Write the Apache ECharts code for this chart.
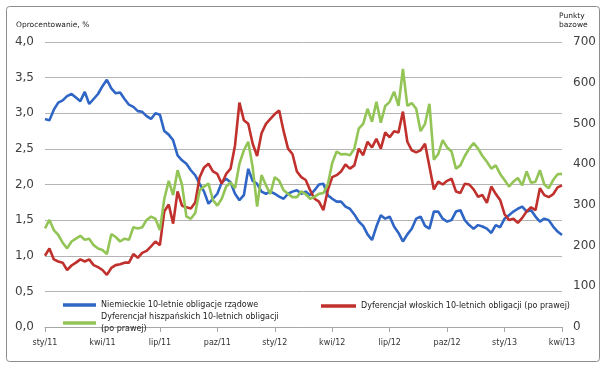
<!DOCTYPE html>
<html>
<head>
<meta charset="utf-8">
<script src="https://cdn.jsdelivr.net/npm/echarts@6/dist/echarts.min.js"></script>
<style>
html,body{margin:0;padding:0;background:#fff;}
#c{width:605px;height:365px;}
</style>
</head>
<body>
<div id="c"></div>
<script>
// Quarter tick labels
const tickLabels = ['sty/11','kwi/11','lip/11','paz/11','sty/12','kwi/12','lip/12','paz/12','sty/13','kwi/13'];

// German 10Y yields, % (left axis), weekly
const blue = [2.92,2.90,3.05,3.15,3.18,3.24,3.27,3.22,3.17,3.30,
3.13,3.20,3.27,3.38,3.47,3.35,3.28,3.29,3.20,3.12,
3.09,3.03,3.02,2.96,2.92,3.00,2.98,2.75,2.70,2.62,
2.41,2.34,2.29,2.20,2.13,2.01,1.90,1.73,1.80,1.87,
2.03,2.08,2.03,1.87,1.78,1.85,2.22,2.05,2.01,1.90,
1.87,1.90,1.87,1.83,1.80,1.87,1.90,1.92,1.87,1.90,
1.85,1.92,2.00,2.01,1.85,1.80,1.76,1.76,1.69,1.66,
1.58,1.48,1.42,1.30,1.22,1.41,1.57,1.52,1.55,1.41,
1.32,1.20,1.30,1.38,1.52,1.55,1.42,1.38,1.62,1.62,
1.52,1.48,1.50,1.62,1.64,1.50,1.43,1.38,1.43,1.41,
1.38,1.32,1.43,1.40,1.52,1.57,1.62,1.66,1.69,1.62,
1.64,1.55,1.48,1.52,1.50,1.41,1.34,1.29];

// Spanish 10Y spread, bp (right axis)
const green = [242,263,238,226,207,193,210,217,224,214,
217,201,193,189,179,228,221,210,217,214,
245,242,245,263,271,266,238,315,359,324,
385,350,271,266,280,336,345,352,312,298,
315,345,355,341,401,434,455,392,296,373,
348,327,368,359,336,327,319,319,333,326,
315,320,327,329,350,403,431,424,425,422,
438,487,499,536,504,553,502,543,553,578,
543,634,543,550,536,481,499,548,411,425,
459,441,431,389,397,420,438,452,438,420,
406,389,397,376,361,345,357,366,348,382,
354,357,385,350,341,361,375,376];

// Italian 10Y spread, bp (right axis)
const red = [175,193,166,161,158,140,151,158,166,161,
166,152,147,140,128,145,152,154,158,158,
179,170,182,187,198,210,201,284,301,254,
333,298,294,291,306,368,392,401,382,376,
352,376,389,446,551,508,499,450,420,476,
499,511,523,532,481,438,425,382,368,361,
336,315,308,287,336,368,373,382,399,389,
397,438,422,455,441,462,438,478,466,481,
478,529,455,434,429,434,450,394,338,357,
350,359,364,333,329,352,350,338,320,324,
305,345,327,312,277,263,266,256,268,284,
294,287,341,324,319,326,343,348];

const nameBlue = 'Niemieckie 10-letnie obligacje rządowe';
const nameRed = 'Dyferencjał włoskich 10-letnich obligacji (po prawej)';
const nameGreen = 'Dyferencjał hiszpańskich 10-letnich obligacji\n(po prawej)';

// weekly category dates
const weeks = [];
for (let i = 0; i < blue.length; i++) {
  const d = new Date(Date.UTC(2011, 0, 3 + 7 * i));
  weeks.push(d.toISOString().slice(0, 10));
}

const FONT = 'DejaVu Sans';
const chart = echarts.init(document.getElementById('c'), null, {renderer: 'canvas'});
const legendText = {fontFamily: FONT, fontSize: 8, color: '#222'};

chart.setOption({
  animation: false,
  backgroundColor: '#fff',
  graphic: [{
    type: 'rect', left: 4, top: 4,
    shape: {width: 593, height: 355, r: 3},
    style: {fill: 'none', stroke: '#8c8c8c', lineWidth: 1}
  }],
  title: [
    {text: 'Oprocentowanie, %', left: 11, top: 16,
     textStyle: {fontFamily: FONT, fontSize: 7.5, fontWeight: 'normal', color: '#222'}},
    {text: 'Punkty\nbazowe', left: 554, top: 6,
     textStyle: {fontFamily: FONT, fontSize: 7.5, fontWeight: 'normal', color: '#222', lineHeight: 9.5}}
  ],
  grid: {left: 45, right: 43, top: 42, bottom: 38},
  legend: [
    {data: [nameBlue], left: 58, top: 296, icon: 'rect', itemWidth: 33, itemHeight: 3.5, textStyle: legendText},
    {data: [nameGreen], left: 58, top: 306, icon: 'rect', itemWidth: 33, itemHeight: 3.5,
     textStyle: Object.assign({lineHeight: 12}, legendText)},
    {data: [nameRed], left: 316, top: 297, icon: 'rect', itemWidth: 35, itemHeight: 3.5, textStyle: legendText}
  ],
  xAxis: {
    type: 'category',
    data: weeks,
    boundaryGap: false,
    axisLine: {lineStyle: {color: '#a6a6a6', width: 1}},
    axisTick: {interval: 12, length: 5, lineStyle: {color: '#a6a6a6'}},
    axisLabel: {
      interval: 12, margin: 12,
      fontFamily: FONT, fontSize: 8, color: '#333',
      formatter: (v, idx) => tickLabels[Math.round(idx / 13)]
    },
    splitLine: {show: false}
  },
  yAxis: [
    {
      type: 'value', min: 0, max: 4, interval: 0.5,
      axisLine: {show: false}, axisTick: {show: false},
      axisLabel: {fontFamily: FONT, fontSize: 12, color: '#404040', margin: 11,
        formatter: v => v.toFixed(1).replace('.', ',')},
      splitLine: {lineStyle: {color: '#b4b4b4', width: 1}}
    },
    {
      type: 'value', min: 0, max: 700, interval: 100, position: 'right',
      axisLine: {show: false}, axisTick: {show: false},
      axisLabel: {fontFamily: FONT, fontSize: 12, color: '#404040', margin: 11},
      splitLine: {show: false}
    }
  ],
  series: [
    {name: nameBlue, type: 'line', yAxisIndex: 0, data: blue, showSymbol: false,
     lineStyle: {color: '#2f66c6', width: 2.6}, itemStyle: {color: '#2f66c6'}},
    {name: nameRed, type: 'line', yAxisIndex: 1, data: red, showSymbol: false,
     lineStyle: {color: '#c0302c', width: 2.6}, itemStyle: {color: '#c0302c'}},
    {name: nameGreen, type: 'line', yAxisIndex: 1, data: green, showSymbol: false,
     lineStyle: {color: '#93c456', width: 2.6}, itemStyle: {color: '#93c456'}}
  ]
});
</script>
</body>
</html>
